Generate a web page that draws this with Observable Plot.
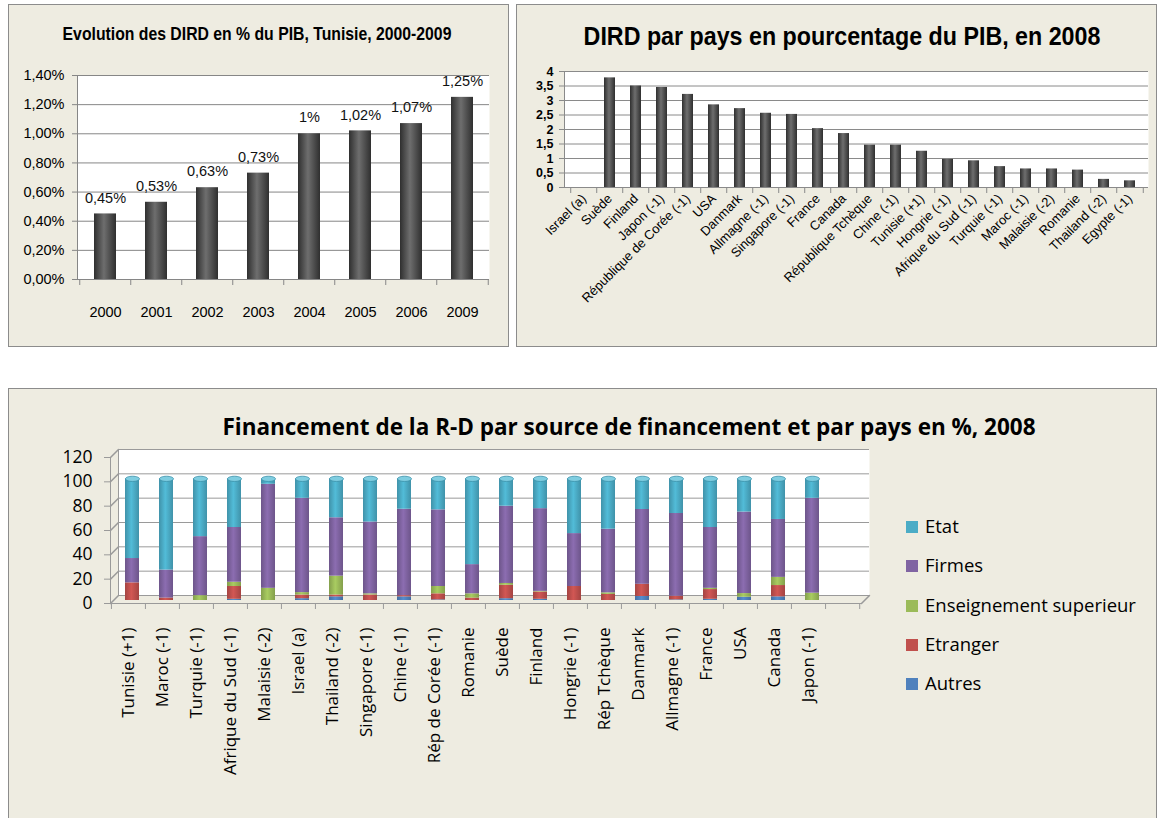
<!DOCTYPE html>
<html><head><meta charset="utf-8">
<script src="https://cdn.jsdelivr.net/npm/d3@7"></script>
<script src="https://cdn.jsdelivr.net/npm/@observablehq/plot@0.6"></script>
<style>
body{margin:0;background:#fff;width:1159px;height:818px;overflow:hidden;position:relative;}
.panel{position:absolute;background:#EEECE1;border:1px solid #8c8c8c;box-sizing:border-box;overflow:hidden;}
.panel svg{position:absolute;left:0;top:0;}
.title{position:absolute;font-weight:bold;white-space:nowrap;color:#000;}
.leg{position:absolute;font-family:"Open Sans",sans-serif;font-size:18.5px;color:#000;white-space:nowrap;line-height:20px;}
.leg span{display:inline-block;width:12px;height:12px;margin-right:7px;vertical-align:0px;}
</style></head><body>
<div id="p1" class="panel" style="left:8px;top:4px;width:501px;height:343px"></div>
<div id="p2" class="panel" style="left:516px;top:4px;width:641px;height:343px"></div>
<div id="p3" class="panel" style="left:8px;top:388px;width:1149px;height:440px"></div>
<script>
// ---------- Data: chart 1 ----------
const title1 = "Evolution des DIRD en % du PIB, Tunisie, 2000-2009";
const years1 = ["2000","2001","2002","2003","2004","2005","2006","2009"];
const dird1 = [0.45,0.53,0.63,0.73,1.00,1.02,1.07,1.25];
const labels1 = ["0,45%","0,53%","0,63%","0,73%","1%","1,02%","1,07%","1,25%"];
const yTicks1 = [0,0.2,0.4,0.6,0.8,1.0,1.2,1.4];

// ---------- Data: chart 2 ----------
const title2 = "DIRD par pays en pourcentage du PIB, en 2008";
const countries2 = ["Israel (a)","Suède","Finland","Japon (-1)","République de Corée (-1)","USA","Danmark","Allmagne (-1)","Singapore (-1)","France","Canada","République Tchèque","Chine (-1)","Tunisie (+1)","Hongrie (-1)","Afrique du Sud (-1)","Turquie (-1)","Maroc (-1)","Malaisie (-2)","Romanie","Thailand (-2)","Egypte (-1)"];
const dird2 = [null,3.78,3.5,3.45,3.21,2.85,2.72,2.56,2.52,2.03,1.86,1.46,1.46,1.25,0.97,0.92,0.72,0.64,0.64,0.6,0.28,0.23];
const yTicks2 = [0,0.5,1,1.5,2,2.5,3,3.5,4];

// ---------- Data: chart 3 ----------
const title3 = "Financement de la R-D par source de financement et par pays en %, 2008";
const countries3 = ["Tunisie (+1)","Maroc (-1)","Turquie (-1)","Afrique du Sud (-1)","Malaisie (-2)","Israel (a)","Thailand (-2)","Singapore (-1)","Chine (-1)","Rép de Corée (-1)","Romanie","Suède","Finland","Hongrie (-1)","Rép Tchèque","Danmark","Allmagne (-1)","France","USA","Canada","Japon (-1)"];
const autres       = [0,0,0,1,0,1.5,3,0,3,0.5,0,1.5,1,0,0,3.3,0.5,1,2.7,3,0];
const etranger     = [14.5,2,0,10.5,0,3,1.5,4.5,1,5,2,11,6,11.5,5,10,3,8,0,9.3,0];
const enseignement = [0,0,4,3.5,10,2,15.5,1,0,6,3.5,1.5,0.5,0,1.3,0,0,1,3,6.7,6];
const firmes       = [20,23,48.5,45,85.5,77.5,48,59,71,63,24,63.5,68,43.5,52.3,61.5,68,50,67,47.6,78];
const etat         = [65.5,75,47.5,40,4.5,16,32,35.5,25,25.5,70.5,22.5,24.5,45,41.4,25.2,28.5,40,27.3,33.4,16];
const series3 = ["Autres","Etranger","Enseignement superieur","Firmes","Etat"];
const legendOrder3 = ["Etat","Firmes","Enseignement superieur","Etranger","Autres"];
const colors3 = {"Etat":"#4BACC6","Firmes":"#8064A2","Enseignement superieur":"#9BBB59","Etranger":"#C0504D","Autres":"#4F81BD"};
const yTicks3 = [0,20,40,60,80,100,120];

// ---------- helpers ----------
const FN = "'Liberation Sans',sans-serif";
const FO = "'Open Sans',sans-serif";
function addGradient(svg, id, edge, mid){
  let defs = d3.select(svg).select("defs");
  if (defs.empty()) defs = d3.select(svg).insert("defs", ":first-child");
  const g = defs.append("linearGradient").attr("id", id).attr("x1",0).attr("x2",1).attr("y1",0).attr("y2",0);
  g.append("stop").attr("offset","0%").attr("stop-color",edge);
  g.append("stop").attr("offset","45%").attr("stop-color",mid);
  g.append("stop").attr("offset","100%").attr("stop-color",edge);
}
function addTitle(panel, text, x, y, size, family, sx){
  const t = document.createElement("div");
  t.className = "title"; t.textContent = text;
  t.style.left = x + "px"; t.style.top = y + "px";
  t.style.fontSize = size + "px"; t.style.fontFamily = family;
  t.style.transform = `translate(-50%,-50%) scaleX(${sx})`;
  panel.appendChild(t);
}
const comma = v => String(v).replace(".", ",");
function capSymbol(rx, ry){
  const k = 0.5523;
  return {draw(ctx){
    ctx.moveTo(-rx,0);
    ctx.bezierCurveTo(-rx,-ry*k,-rx*k,-ry,0,-ry);
    ctx.bezierCurveTo(rx*k,-ry,rx,-ry*k,rx,0);
    ctx.bezierCurveTo(rx,ry*k,rx*k,ry,0,ry);
    ctx.bezierCurveTo(-rx*k,ry,-rx,ry*k,-rx,0);
    ctx.closePath();
  }};
}

// ---------- Chart 1 ----------
{
  const W=499,H=341,ml=68,mr=19,mt=70,mb=67;
  const step=(W-ml-mr)/years1.length;
  const data = years1.map((y,i)=>({year:y, v:dird1[i], label:labels1[i]}));
  const grid = "#868686";
  const svg = Plot.plot({
    width:W,height:H,marginLeft:ml,marginRight:mr,marginTop:mt,marginBottom:mb,
    style:{background:"transparent",fontFamily:FN,fontSize:"14px",color:"#000"},
    x:{domain:years1,paddingInner:0.57,paddingOuter:0.285,label:null},
    y:{domain:[0,1.4],label:null},
    marks:[
      Plot.frame({fill:"white",stroke:null}),
      Plot.ruleY(yTicks1,{stroke:grid}),
      Plot.barY(data,{x:"year",y:"v",fill:"url(#g1)"}),
      Plot.text(data,{x:"year",y:"v",text:"label",dy:-16,fontSize:14.5,fill:"#111"}),
      Plot.axisY({ticks:yTicks1,tickFormat:v=>v.toFixed(2).replace(".",",")+"%",tickSize:5,tickPadding:8,stroke:grid,label:null,fontSize:14.5}),
      Plot.axisX({tickSize:0,tickPadding:27,label:null,fontSize:14.5}),
      Plot.axisX({tickSize:6,dx:-step/2,tickFormat:()=>"",stroke:grid,label:null}),
      Plot.axisX({ticks:[years1[years1.length-1]],tickSize:6,dx:step/2,tickFormat:()=>"",stroke:grid,label:null}),
      Plot.ruleY([0],{stroke:grid}),
      Plot.frame({anchor:"left",stroke:grid})
    ]
  });
  addGradient(svg,"g1","#2f2f2f","#6e6e6e");
  const p = document.getElementById("p1");
  p.appendChild(svg);
  addTitle(p, title1, 248, 29, 19, FN, 0.83);
}

// ---------- Chart 2 ----------
{
  const W=639,H=341,ml=47,mr=8,mt=66,mb=159;
  const step=(W-ml-mr)/countries2.length;
  const data = countries2.map((c,i)=>({country:c, v:dird2[i]}));
  const grid = "#8a8a8a";
  const svg = Plot.plot({
    width:W,height:H,marginLeft:ml,marginRight:mr,marginTop:mt,marginBottom:mb,
    style:{background:"transparent",fontFamily:FN,fontSize:"13px",color:"#000"},
    x:{domain:countries2,paddingInner:0.58,paddingOuter:0.29,label:null},
    y:{domain:[0,4],label:null},
    marks:[
      Plot.frame({fill:"white",stroke:null}),
      Plot.ruleY(yTicks2,{stroke:grid}),
      Plot.barY(data.filter(d=>d.v!=null),{x:"country",y:"v",fill:"url(#g2)"}),
      Plot.axisY({ticks:yTicks2,tickFormat:comma,tickSize:5,tickPadding:6,stroke:grid,label:null,fontSize:12.5,fontWeight:"bold"}),
      Plot.axisX({tickSize:0,tickPadding:9,tickRotate:-45,label:null,fontSize:13}),
      Plot.axisX({tickSize:6,dx:-step/2,tickFormat:()=>"",stroke:grid,label:null}),
      Plot.axisX({ticks:[countries2[countries2.length-1]],tickSize:6,dx:step/2,tickFormat:()=>"",stroke:grid,label:null}),
      Plot.ruleY([0],{stroke:grid}),
      Plot.frame({anchor:"left",stroke:grid})
    ]
  });
  addGradient(svg,"g2","#2f2f2f","#6e6e6e");
  const p = document.getElementById("p2");
  p.appendChild(svg);
  addTitle(p, title2, 325, 31, 25, FN, 0.93);
}

// ---------- Chart 3 ----------
{
  const W=880,H=428,ml=101,mr=28,mt=68,mb=214;
  const step=(W-ml-mr)/(countries3.length+1);
  const values3 = {"Autres":autres,"Etranger":etranger,"Enseignement superieur":enseignement,"Firmes":firmes,"Etat":etat};
  const data = countries3.flatMap((c,i)=>series3.map(s=>({country:c, source:s, v:values3[s][i]})));
  const grid = "#9a9a9a";
  const line = {draw(ctx,l){ctx.moveTo(0,0);ctx.lineTo(0,-l);}};
  const bw = step*(1-0.59);
  const svg = Plot.plot({
    width:W,height:H,marginLeft:ml,marginRight:mr,marginTop:mt,marginBottom:mb,
    style:{background:"transparent",fontFamily:FO,fontSize:"16px",color:"#000"},
    x:{domain:countries3,range:[ml, ml+countries3.length*step],paddingInner:0.59,paddingOuter:0.295,label:null},
    y:{domain:[0,120],label:null},
    color:{domain:series3,range:series3.map((s,i)=>`url(#g3_${i})`)},
    marks:[
      Plot.frame({fill:"white",stroke:null,dx:8,dy:-8}),
      Plot.ruleY(yTicks3,{stroke:grid,dx:8,dy:-8}),
      Plot.frame({anchor:"left",stroke:grid,dx:8,dy:-8}),
      Plot.vector(yTicks3,{y:d=>d,frameAnchor:"left",rotate:45,length:11.3,anchor:"start",shape:line,stroke:grid}),
      Plot.vector([0],{y:d=>d,frameAnchor:"right",rotate:45,length:11.3,anchor:"start",shape:line,stroke:grid}),
      Plot.barY(data,{x:"country",y:"v",fill:"source",dx:4,dy:-3}),
      Plot.dot(data,Plot.stackY2({x:"country",y:"v",symbol:capSymbol(bw/2,2.6),r:3,dx:4,dy:-3,
        fill:"#7FCDE0",stroke:"#3A8FA8",strokeWidth:0.8,
        fillOpacity:d=>d.source==="Etat"?1:0,strokeOpacity:d=>d.source==="Etat"?1:0})),
      Plot.axisY({ticks:yTicks3,tickSize:6,tickPadding:12,stroke:grid,label:null,fontSize:17.5}),
      Plot.axisX({tickSize:0,tickPadding:24,tickRotate:-90,label:null,fontSize:17}),
      Plot.axisX({tickSize:6,dx:-step/2,tickFormat:()=>"",stroke:grid,label:null}),
      Plot.axisX({ticks:[countries3[countries3.length-1]],tickSize:6,dx:step/2,tickFormat:()=>"",stroke:grid,label:null}),
      Plot.axisX({ticks:[countries3[countries3.length-1]],tickSize:6,dx:1.5*step,tickFormat:()=>"",stroke:grid,label:null}),
      Plot.ruleY([0],{stroke:grid}),
      Plot.frame({anchor:"left",stroke:grid})
    ]
  });
  series3.forEach((s,i)=>{
    const c = d3.color(colors3[s]);
    addGradient(svg,`g3_${i}`,c.darker(0.45).formatHex(),c.brighter(0.25).formatHex());
  });
  const p = document.getElementById("p3");
  p.appendChild(svg);
  addTitle(p, title3, 620, 37, 22.5, FO, 1);
  legendOrder3.forEach((s,i)=>{
    const d = document.createElement("div");
    d.className = "leg";
    d.style.left = "897px";
    d.style.top = (127 + i*39.3) + "px";
    d.innerHTML = `<span style="background:${colors3[s]}"></span>`;
    d.appendChild(document.createTextNode(s));
    p.appendChild(d);
  });
}
</script>
</body></html>
